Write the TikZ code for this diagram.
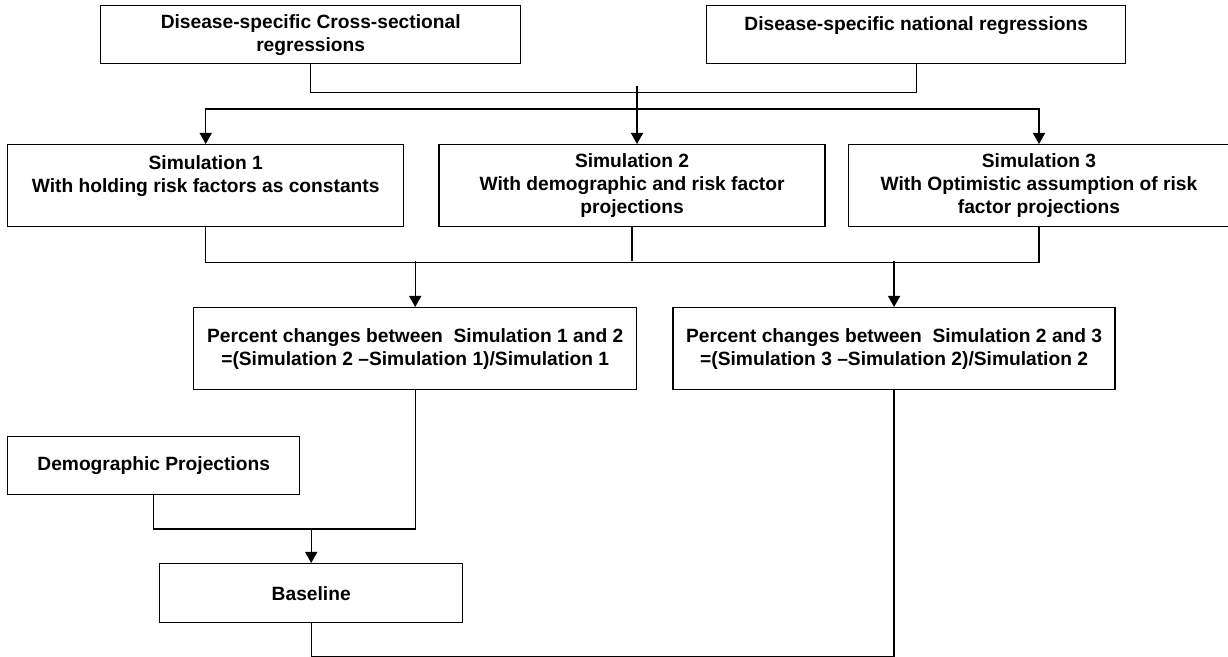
\documentclass[tikz,border=0pt]{standalone}
\usepackage{fontspec}
\setmainfont{Liberation Sans}
\usetikzlibrary{positioning}
\usetikzlibrary{arrows.meta}
\tikzset{box node/.style={rectangle,draw,line width=0.7pt,align=center,inner sep=0pt,font=\fontsize{9.6pt}{11.5pt}\selectfont\bfseries},
  link/.style={line width=0.7pt},
  arrow link/.style={link,-{Triangle[length=5.5pt,width=6pt]}},}

\begin{document}
\begin{tikzpicture}[x=0.5pt,y=-0.5pt]
          \useasboundingbox (0,0) rectangle (1228,657);
          \node[box node,minimum width=210pt,minimum height=29pt,anchor=north west] (1) at (100,5) {Disease-specific Cross-sectional\\regressions};
          \node[box node,minimum width=209.5pt,minimum height=29pt,anchor=north west] (2) at (706,5) {Disease-specific national regressions\\\mbox{}};
          \node[box node,minimum width=198pt,minimum height=41pt,anchor=north west] (3) at (7,144) {Simulation 1\\With holding risk factors as constants\\\mbox{}};
          \node[box node,minimum width=193pt,minimum height=41pt] (4) [right = 17pt of 3] {Simulation 2\\With demographic and risk factor\\projections};
          \node[box node,minimum width=190.5pt,minimum height=41pt] (5) [right = 11pt of 4] {Simulation 3\\With Optimistic assumption of risk\\factor projections};
          \node[box node,minimum width=221.5pt,minimum height=41pt,anchor=north west] (6) at (193,307) {Percent changes between\ \ Simulation 1 and 2\\=(Simulation 2 –Simulation 1)/Simulation 1};
          \node[box node,minimum width=221pt,minimum height=41pt] (7) [right = 17.5pt of 6] {Percent changes between\ \ Simulation 2 and 3\\=(Simulation 3 –Simulation 2)/Simulation 2};
          \node[box node,minimum width=146pt,minimum height=29pt,anchor=north west] (8) at (7,436) {Demographic Projections};
          \node[box node,minimum width=151.5pt,minimum height=29.5pt,anchor=north west] (9) at (159,563) {Baseline};

          \coordinate (split) at (637,86);
          \coordinate (bus1) at (637,109);
          \coordinate (bus2) at (630,261);
          \coordinate (bus3) at (310.5,529);

          \draw[link] (1.south) -- ++(0,28) -| (2.south);
          \draw[arrow link] (split) -- (bus1 |- 4.north);
          \draw[arrow link] (bus1) -| (3.north);
          \draw[arrow link] (bus1) -| (5.north);
          \draw[link] (3.south) -- ++(0,35) -| (5.south);
          \draw[link] (4.south) -- (4.south |- bus2);
          \draw[arrow link] (bus2 -| 6.north) -- (6.north);
          \draw[arrow link] (bus2 -| 7.north) -- (7.north);
          \draw[link] (6.south) |- (bus3) -| (8.south);
          \draw[arrow link] (bus3 -| 9.north) -- (9.north);
          \draw[link] (9.south) -- ++(0,33) -| (7.south);
        \end{tikzpicture}
\end{document}
